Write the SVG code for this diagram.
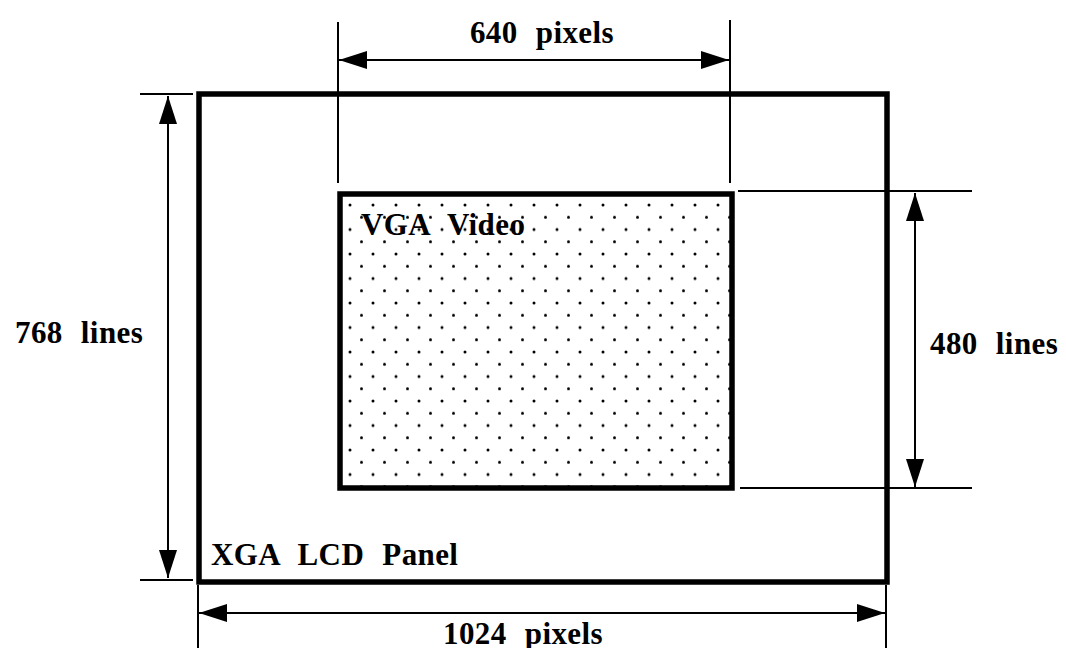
<svg xmlns="http://www.w3.org/2000/svg" width="1066" height="648" viewBox="0 0 1066 648">
<style>
.lbl{font-family:"Liberation Serif","Times New Roman",serif;font-size:31px;font-weight:bold;fill:#000;word-spacing:10px;letter-spacing:0.4px}
.thin{stroke:#000;stroke-width:2;fill:none}
.thick{stroke:#000;stroke-width:5.5}
</style>
<defs>
<pattern id="dots" x="350" y="205" width="23" height="24.5" patternUnits="userSpaceOnUse">
<circle cx="0" cy="0" r="1.5" fill="#000"/>
<circle cx="23" cy="0" r="1.5" fill="#000"/>
<circle cx="0" cy="24.5" r="1.5" fill="#000"/>
<circle cx="23" cy="24.5" r="1.5" fill="#000"/>
<circle cx="11.5" cy="12.25" r="1.5" fill="#000"/>
</pattern>
<marker id="ah" viewBox="0 0 28 18" refX="28" refY="9" markerWidth="28" markerHeight="18" markerUnits="userSpaceOnUse" orient="auto-start-reverse">
<path d="M0,0 L28,9 L0,18 Z" fill="#000"/>
</marker>
</defs>
<g id="xga-panel">
<rect x="199" y="94" width="688" height="488" class="thick" fill="none"/>
<text class="lbl" x="211" y="565">XGA LCD Panel</text>
</g>
<g id="vga-video">
<rect x="340" y="194" width="392" height="294" class="thick" fill="url(#dots)"/>
<text class="lbl" x="361" y="235">VGA Video</text>
</g>
<g id="connectors">
<line x1="338" y1="22" x2="338" y2="183" class="thin"/>
<line x1="730" y1="20" x2="730" y2="183" class="thin"/>
<line x1="339" y1="60" x2="729" y2="60" class="thin" marker-start="url(#ah)" marker-end="url(#ah)"/>
<line x1="140" y1="94" x2="193" y2="94" class="thin"/>
<line x1="140" y1="580" x2="193" y2="580" class="thin"/>
<line x1="168" y1="96" x2="168" y2="578" class="thin" marker-start="url(#ah)" marker-end="url(#ah)"/>
<line x1="738" y1="191" x2="972" y2="191" class="thin"/>
<line x1="740" y1="488" x2="972" y2="488" class="thin"/>
<line x1="915" y1="193" x2="915" y2="487" class="thin" marker-start="url(#ah)" marker-end="url(#ah)"/>
<line x1="198" y1="585" x2="198" y2="648" class="thin"/>
<line x1="886" y1="585" x2="886" y2="648" class="thin"/>
<line x1="199" y1="613" x2="885" y2="613" class="thin" marker-start="url(#ah)" marker-end="url(#ah)"/>
</g>
<g id="labels">
<text class="lbl" x="542" y="43" text-anchor="middle">640 pixels</text>
<text class="lbl" x="15" y="343">768 lines</text>
<text class="lbl" x="930" y="354">480 lines</text>
<text class="lbl" x="443" y="644">1024 pixels</text>
</g>
</svg>
